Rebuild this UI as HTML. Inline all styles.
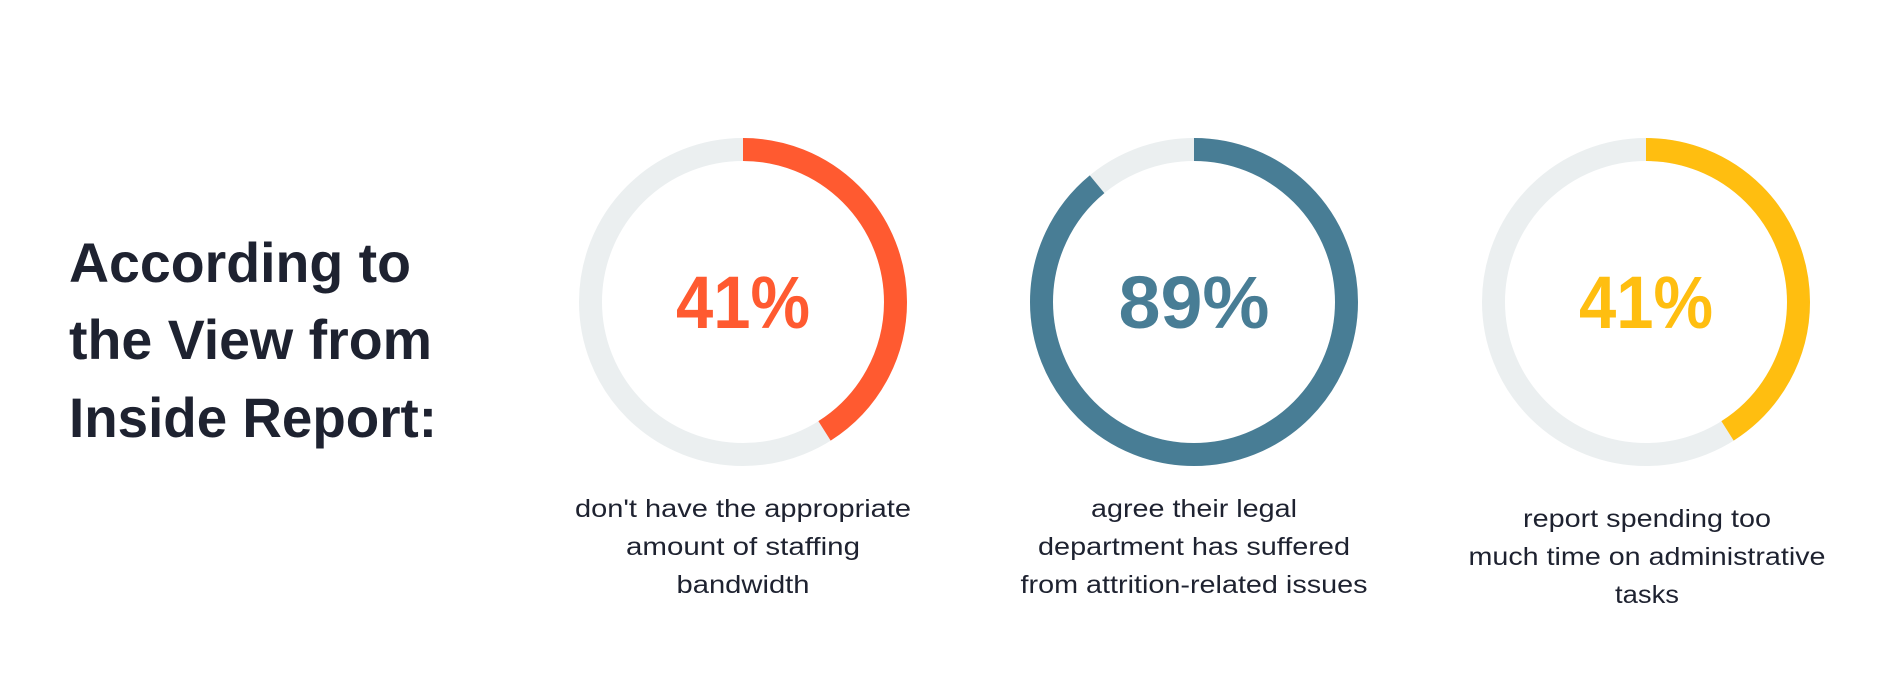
<!DOCTYPE html>
<html><head><meta charset="utf-8"><style>
html,body{margin:0;padding:0;background:#fff;}
svg{display:block;}
text{font-family:"Liberation Sans",sans-serif;}
</style></head><body>
<svg width="1877" height="680" viewBox="0 0 1877 680" xmlns="http://www.w3.org/2000/svg">
<g fill="#1e2230" font-weight="bold" font-size="56">
<text x="69" y="282" textLength="342" lengthAdjust="spacingAndGlyphs">According to</text>
<text x="69" y="359" textLength="363" lengthAdjust="spacingAndGlyphs">the View from</text>
<text x="69" y="437" textLength="368" lengthAdjust="spacingAndGlyphs">Inside Report:</text>
</g>
<g fill="none" stroke-width="23">
<circle cx="743" cy="302" r="152.5" stroke="#ebeff0"/>
<circle cx="743" cy="302" r="152.5" stroke="#ff5a30" stroke-dasharray="392.9 1000" transform="rotate(-90 743 302)"/>
<circle cx="1194" cy="302" r="152.5" stroke="#ebeff0"/>
<circle cx="1194" cy="302" r="152.5" stroke="#487d95" stroke-dasharray="852.8 1000" transform="rotate(-90 1194 302)"/>
<circle cx="1646" cy="302" r="152.5" stroke="#ebeff0"/>
<circle cx="1646" cy="302" r="152.5" stroke="#ffbe10" stroke-dasharray="392.9 1000" transform="rotate(-90 1646 302)"/>
</g>
<g font-weight="bold" font-size="74" text-anchor="middle">
<text x="743" y="328" fill="#ff5a30" textLength="134" lengthAdjust="spacingAndGlyphs">41%</text>
<text x="1194" y="328" fill="#487d95" textLength="151" lengthAdjust="spacingAndGlyphs">89%</text>
<text x="1646" y="328" fill="#ffbe10" textLength="134" lengthAdjust="spacingAndGlyphs">41%</text>
</g>
<g fill="#1e2230" font-size="25" text-anchor="middle">
<text x="743" y="517" textLength="336" lengthAdjust="spacingAndGlyphs">don't have the appropriate</text>
<text x="743" y="555" textLength="234" lengthAdjust="spacingAndGlyphs">amount of staffing</text>
<text x="743" y="593" textLength="133" lengthAdjust="spacingAndGlyphs">bandwidth</text>
<text x="1194" y="517" textLength="206" lengthAdjust="spacingAndGlyphs">agree their legal</text>
<text x="1194" y="555" textLength="312" lengthAdjust="spacingAndGlyphs">department has suffered</text>
<text x="1194" y="593" textLength="347" lengthAdjust="spacingAndGlyphs">from attrition-related issues</text>
<text x="1647" y="527" textLength="248" lengthAdjust="spacingAndGlyphs">report spending too</text>
<text x="1647" y="565" textLength="357" lengthAdjust="spacingAndGlyphs">much time on administrative</text>
<text x="1647" y="603" textLength="64" lengthAdjust="spacingAndGlyphs">tasks</text>
</g>
</svg>
</body></html>
